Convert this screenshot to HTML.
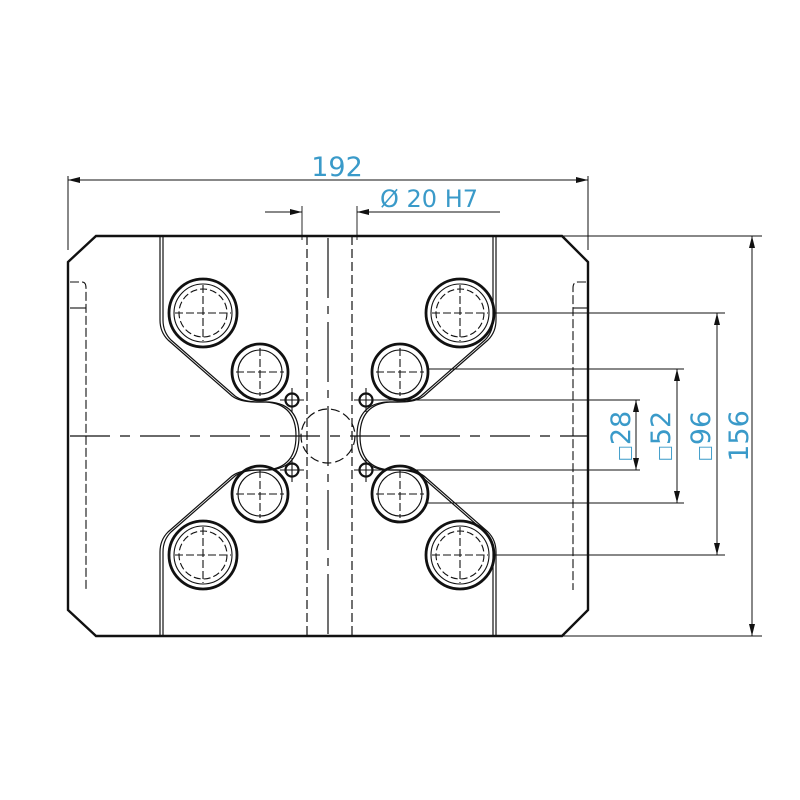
<!DOCTYPE html>
<html><head><meta charset="utf-8"><style>body{margin:0;background:#fff}svg{display:block}</style></head><body>
<svg width="800" height="800" viewBox="0 0 800 800" xmlns="http://www.w3.org/2000/svg">
<defs>
<marker id="a" markerWidth="12" markerHeight="6" refX="12" refY="3" orient="auto" markerUnits="userSpaceOnUse"><path d="M0,0 L12,3 L0,6z" fill="#111"/></marker>
<g id="bigb"><circle r="34" fill="none" stroke="#111" stroke-width="2.8"/><circle r="29" fill="none" stroke="#111" stroke-width="1.1"/><circle r="24" fill="none" stroke="#111" stroke-width="1.1" stroke-dasharray="7,3"/><path d="M-28,0H28M0,-28V28" stroke="#111" stroke-width="1.1" stroke-dasharray="8,3"/></g>
<g id="medb"><circle r="28" fill="none" stroke="#111" stroke-width="2.8"/><circle r="22" fill="none" stroke="#111" stroke-width="1.1"/><path d="M-24,0H24M0,-24V24" stroke="#111" stroke-width="1.1" stroke-dasharray="8,3"/></g>
<g id="sm"><circle r="6.5" fill="none" stroke="#111" stroke-width="2.2"/><path d="M-12,0H12M0,-12V12" stroke="#111" stroke-width="1.1"/></g>
<path id="prof" d="M160,236 V320 Q160,332 168,340 L232,396 Q240,402 256,402 L266,402 Q296,404 296,436 Q296,468 266,470 L256,470 Q240,470 232,476 L168,532 Q160,540 160,552 V636" fill="none" stroke="#111" stroke-width="1.2"/>
</defs>
<g stroke="#111" fill="none">
<path d="M96,236 H562 L588,262 V610 L562,636 H96 L68,610 V262 Z" stroke-width="2.4"/>
<use href="#prof"/><use href="#prof" transform="translate(3,0)"/>
<use href="#prof" transform="translate(656,0) scale(-1,1)"/><use href="#prof" transform="translate(653,0) scale(-1,1)"/>
<path d="M70,282 H82 Q86,282 86,288 V590" stroke-width="1.1" stroke-dasharray="9,3"/><path d="M70,308 H86" stroke-width="1.1"/>
<path d="M586,282 H578 Q573,282 573,288 V590" stroke-width="1.1" stroke-dasharray="9,3"/><path d="M573,308 H588" stroke-width="1.1"/>
<path d="M70,436 H588" stroke-width="1.2" stroke-dasharray="40,10,10,10"/>
<path d="M328,238 V634" stroke-width="1.2" stroke-dasharray="60,8,8,8"/>
<path d="M307,236 V636 M352,236 V636" stroke-width="1.2" stroke-dasharray="9,4"/>
<path d="M302,206 V240 M357,206 V240" stroke-width="0.9"/>
<circle cx="328" cy="436" r="27" stroke-width="1.2" stroke-dasharray="9,4"/>
</g>
<use href="#bigb" x="203" y="313"/><use href="#bigb" x="460" y="313"/><use href="#bigb" x="203" y="555"/><use href="#bigb" x="460" y="555"/>
<use href="#medb" x="260" y="372"/><use href="#medb" x="400" y="372"/><use href="#medb" x="260" y="494"/><use href="#medb" x="400" y="494"/>
<use href="#sm" x="292" y="400"/><use href="#sm" x="366" y="400"/><use href="#sm" x="292" y="470"/><use href="#sm" x="366" y="470"/>
<g stroke="#111" stroke-width="1" fill="none">
<path d="M68,176 V250 M588,176 V250"/>
<path d="M328,180 H68" marker-end="url(#a)"/><path d="M328,180 H588" marker-end="url(#a)"/>
<path d="M265,212 H302" marker-end="url(#a)"/><path d="M500,212 H357" marker-end="url(#a)"/>
<path d="M562,236 H762 M494,313 H725 M428,369 H684 M374,400 H640 M374,470 H640 M428,503 H684 M494,555 H725 M562,636 H762"/>
<path d="M752,436 V236" marker-end="url(#a)"/><path d="M752,436 V636" marker-end="url(#a)"/>
<path d="M717,436 V313" marker-end="url(#a)"/><path d="M717,436 V555" marker-end="url(#a)"/>
<path d="M677,436 V369" marker-end="url(#a)"/><path d="M677,436 V503" marker-end="url(#a)"/>
<path d="M636,436 V400" marker-end="url(#a)"/><path d="M636,436 V470" marker-end="url(#a)"/>
</g>
<g fill="#3a9ac9" font-family="DejaVu Sans, sans-serif" font-size="27">
<text x="337" y="176" text-anchor="middle">192</text>
<text x="380" y="207" font-size="24">Ø 20 H7</text>
<text transform="translate(630,436) rotate(-90)" text-anchor="middle"><tspan font-size="17">□</tspan>28</text>
<text transform="translate(670,436) rotate(-90)" text-anchor="middle"><tspan font-size="17">□</tspan>52</text>
<text transform="translate(710,436) rotate(-90)" text-anchor="middle"><tspan font-size="17">□</tspan>96</text>
<text transform="translate(748,436) rotate(-90)" text-anchor="middle">156</text>
</g>
</svg>
</body></html>
